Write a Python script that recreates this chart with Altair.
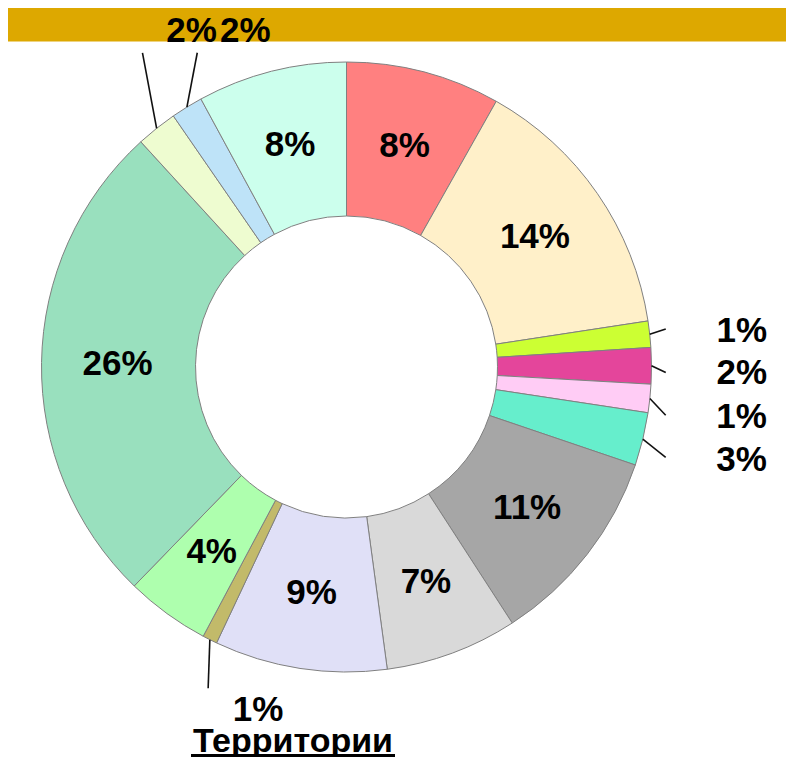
import altair as alt
import pandas as pd
import numpy as np

# ---- data (clockwise from 12 o'clock) ----
segments = ["S1", "S2", "S3", "S4", "S5", "S6", "S7", "S8",
            "S9", "S10", "S11", "S12", "S13", "S14", "S15"]
shares = [8.17, 14.42, 1.39, 1.92, 1.50, 2.81, 10.65, 7.01,
          9.14, 0.78, 4.47, 25.97, 2.17, 1.69, 7.92]
labels = ["8%", "14%", "1%", "2%", "1%", "3%", "11%", "7%",
          "9%", "1%", "4%", "26%", "2%", "2%", "8%"]
colors = ["#FF8080", "#FFF0C9", "#CCFF33", "#E4459B", "#FFCCF5", "#66EECC",
          "#A6A6A6", "#D9D9D9", "#E0E0F7", "#C2BA6A", "#AEFFAE", "#99E0BE",
          "#EEFCD0", "#BEE3F8", "#CCFFED"]
title_text = "Территории"

# callouts for the small slices (layout): slice index, leader end angle/radius, label offset
callout_idx = [2, 3, 4, 5, 9, 12, 13]
callout_end_angle = [83.2, 91.0, 98.6, 105.8, 203.3, 327.0, 334.6]
callout_end_radius = [321.5, 319.3, 322.8, 331.7, 349.8, 374.6, 347.9]
callout_dx = [76, 76, 76, 76, 50, 49, 48]
callout_dy = [2, 0, 2, 3, 22, -22, -22]

# ---- layout ----
W, H = 778, 749
CX, CY = 338.5, 359
R_OUT, R_IN, R_LAB = 305, 151, 229
FONT = "Liberation Sans"

df = pd.DataFrame({
    "idx": range(len(shares)),
    "segment": segments,
    "share": shares,
    "label": labels,
})
df["inside"] = np.where(df["share"] >= 4, df["label"], "")

# compute callout geometry from the data
total = sum(shares)
cum = np.cumsum([0] + shares)
rows = []
for i, a_end, r_end, dx, dy in zip(callout_idx, callout_end_angle,
                                   callout_end_radius, callout_dx, callout_dy):
    mid = np.deg2rad((cum[i] + shares[i] / 2) / total * 360)
    sx, sy = CX + R_OUT * np.sin(mid), CY - R_OUT * np.cos(mid)
    ae = np.deg2rad(a_end)
    ex, ey = CX + r_end * np.sin(ae), CY - r_end * np.cos(ae)
    rows.append({"x": sx, "y": sy, "x2": ex, "y2": ey,
                 "lx": ex + dx, "ly": ey + dy, "label": labels[i]})
co = pd.DataFrame(rows)

xs = alt.Scale(domain=[0, W], nice=False, zero=False)
ys = alt.Scale(domain=[0, H], nice=False, zero=False, reverse=True)

band = alt.Chart(pd.DataFrame({"a": [0]})).mark_rect(color="#DDA800").encode(
    x=alt.value(0), x2=alt.value(W), y=alt.value(0), y2=alt.value(33.5)
)

base = alt.Chart(df).encode(
    theta=alt.Theta("share:Q", stack=True),
    order=alt.Order("idx:Q"),
)

arcs = base.mark_arc(outerRadius=R_OUT, innerRadius=R_IN,
                     stroke="#808080", strokeWidth=1).encode(
    color=alt.Color("segment:N", scale=alt.Scale(domain=segments, range=colors),
                    legend=None),
    x=alt.value(CX), y=alt.value(CY),
)

inside_text = base.mark_text(radius=R_LAB, fontSize=35, fontWeight="bold",
                             font=FONT, color="#000000",
                             baseline="middle", align="center").encode(
    text="inside:N", x=alt.value(CX), y=alt.value(CY),
)

leaders = alt.Chart(co).mark_rule(color="#111111", strokeWidth=1.6).encode(
    x=alt.X("x:Q", scale=xs, axis=None),
    y=alt.Y("y:Q", scale=ys, axis=None),
    x2="x2:Q", y2="y2:Q",
)

out_text = alt.Chart(co).mark_text(fontSize=35, fontWeight="bold", font=FONT,
                                   color="#000000", baseline="middle",
                                   align="center").encode(
    x=alt.X("lx:Q", scale=xs, axis=None),
    y=alt.Y("ly:Q", scale=ys, axis=None),
    text="label:N",
)

title = alt.Chart(pd.DataFrame({"t": [title_text]})).mark_text(
    fontSize=34, fontWeight="bold", font=FONT, color="#000000",
    baseline="alphabetic", align="center").encode(
    text="t:N", x=alt.value(285), y=alt.value(743.5),
)
underline = alt.Chart(pd.DataFrame({"a": [0]})).mark_rule(
    color="#000000", strokeWidth=3).encode(
    x=alt.value(183), x2=alt.value(387), y=alt.value(747.5), y2=alt.value(747.5),
)

chart = alt.layer(band, arcs, inside_text, leaders, out_text, title, underline).properties(
    width=W, height=H,
    autosize=alt.AutoSizeParams(type="none"),
    padding=0,
).configure_view(stroke=None)

chart.save("out.html", embed_options={"renderer": "svg", "actions": False})
